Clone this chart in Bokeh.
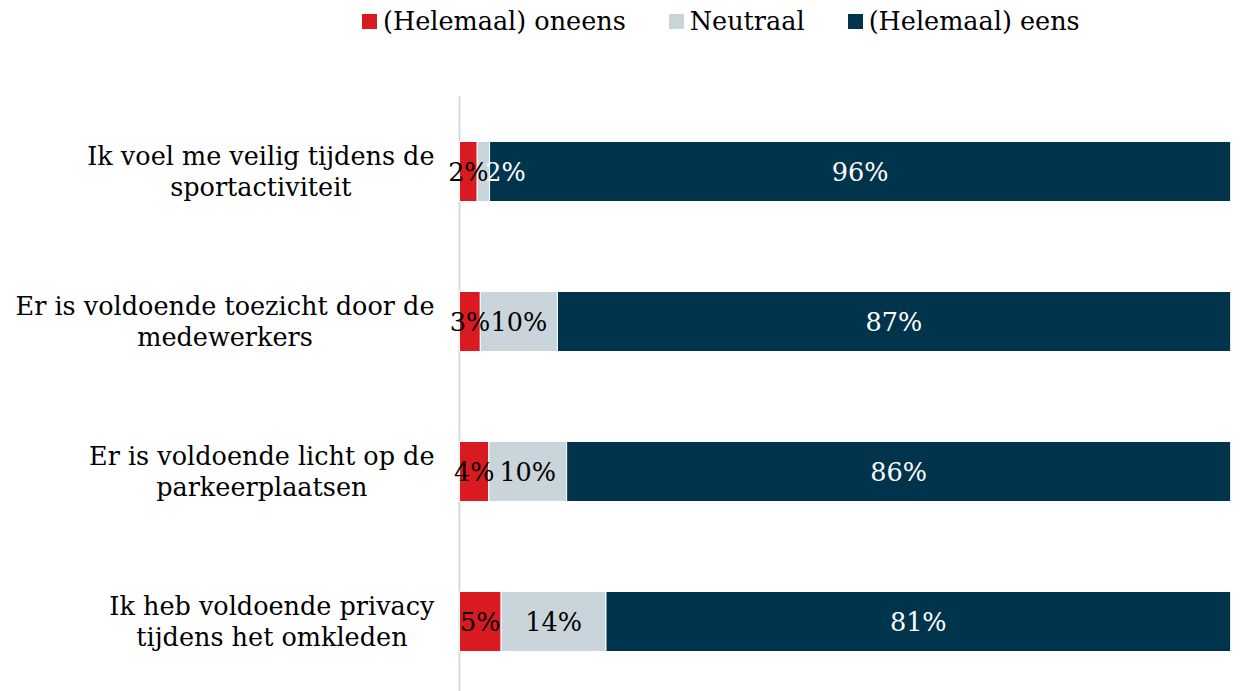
from bokeh.plotting import figure
from bokeh.models import ColumnDataSource, Range1d, Legend, LegendItem
from bokeh.embed import file_html
from bokeh.resources import INLINE
from bokeh.core.properties import value

categories = [
    "Ik voel me veilig tijdens de\nsportactiviteit",
    "Er is voldoende toezicht door de\nmedewerkers",
    "Er is voldoende licht op de\nparkeerplaatsen",
    "Ik heb voldoende privacy\ntijdens het omkleden",
]
series_names = ["(Helemaal) oneens", "Neutraal", "(Helemaal) eens"]
oneens = [2.3, 2.7, 3.8, 5.4]
neutraal = [1.6, 10.0, 10.1, 13.6]
eens = [96.1, 87.3, 86.1, 81.0]
oneens_lbl = ["2%", "3%", "4%", "5%"]
neutraal_lbl = ["2%", "10%", "10%", "14%"]
eens_lbl = ["96%", "87%", "86%", "81%"]

colors = ["#DA1A21", "#C9D5DB", "#00344C"]
FONT = "DejaVu Serif"
FS = "25.5px"

W, H = 1242, 691
PLOT_LEFT, PLOT_RIGHT = 459, 1230      # screen x of 0% and 100%
ROW_TOP, ROW_STEP = 171, 150           # screen y of first row centre, row spacing
px_per_unit = (PLOT_RIGHT - PLOT_LEFT) / 100.0

idx = list(range(len(categories)))
y_bottom = (H - ROW_TOP) / ROW_STEP
y_top = -ROW_TOP / ROW_STEP

p = figure(width=W, height=H, output_backend="svg", toolbar_location=None,
           x_range=Range1d(-PLOT_LEFT / px_per_unit, 100),
           y_range=Range1d(y_bottom, y_top),
           min_border_left=0, min_border_right=W - PLOT_RIGHT, min_border_top=0, min_border_bottom=0,
           x_axis_location=None, y_axis_location=None)
p.xgrid.visible = False
p.ygrid.visible = False
p.outline_line_color = None
p.background_fill_color = "white"
p.border_fill_color = "white"

# vertical axis line at 0%
p.segment(x0=[0], y0=[-0.5], x1=[0], y1=[y_bottom], line_color="#D9D9D9", line_width=2)

series = [oneens, neutraal, eens]
lbls = [oneens_lbl, neutraal_lbl, eens_lbl]
renderers = []
left = [0.0] * len(idx)
for s, vals, col in zip(series_names, series, colors):
    right = [l + v for l, v in zip(left, vals)]
    src = ColumnDataSource(dict(y=idx, left=left, right=right))
    r = p.hbar(y="y", left="left", right="right", height=0.4, source=src,
               fill_color=col, line_color="white", line_width=1)
    renderers.append(r)
    left = right

# data labels
left = [0.0] * len(idx)
for k, (vals, lab) in enumerate(zip(series, lbls)):
    xs, offs, tcol = [], [], []
    for i, v in enumerate(vals):
        xs.append(left[i] + v / 2)
        if k == 1 and v < 3:
            offs.append(22)
            tcol.append("white")
        else:
            offs.append(0)
            tcol.append("white" if k == 2 else "black")
    src = ColumnDataSource(dict(x=xs, y=idx, t=lab, off=offs, c=tcol))
    p.text(x="x", y="y", text="t", x_offset="off", text_color="c", source=src,
           text_align="center", text_baseline="middle",
           text_font=value(FONT), text_font_size=FS)
    left = [l + v for l, v in zip(left, vals)]

# category labels (centred lines, block right-aligned next to the axis)
csrc = ColumnDataSource(dict(x=[0] * len(idx), y=idx, t=categories))
p.text(x="x", y="y", text="t", source=csrc, x_offset=-25,
       anchor="center_right", text_align="center", text_baseline="middle",
       text_font=value(FONT), text_font_size=FS, text_color="black",
       text_line_height=1.03)

legend = Legend(items=[LegendItem(label=n, renderers=[r]) for n, r in zip(series_names, renderers)],
                orientation="horizontal", location=(359, H - 36),
                glyph_width=20, glyph_height=20, label_standoff=4, spacing=40,
                label_text_font=FONT, label_text_font_size=FS, label_text_color="black",
                padding=0, margin=0, border_line_color=None, background_fill_alpha=0)
p.add_layout(legend, "center")

open("out.html", "w").write(file_html(p, INLINE))
